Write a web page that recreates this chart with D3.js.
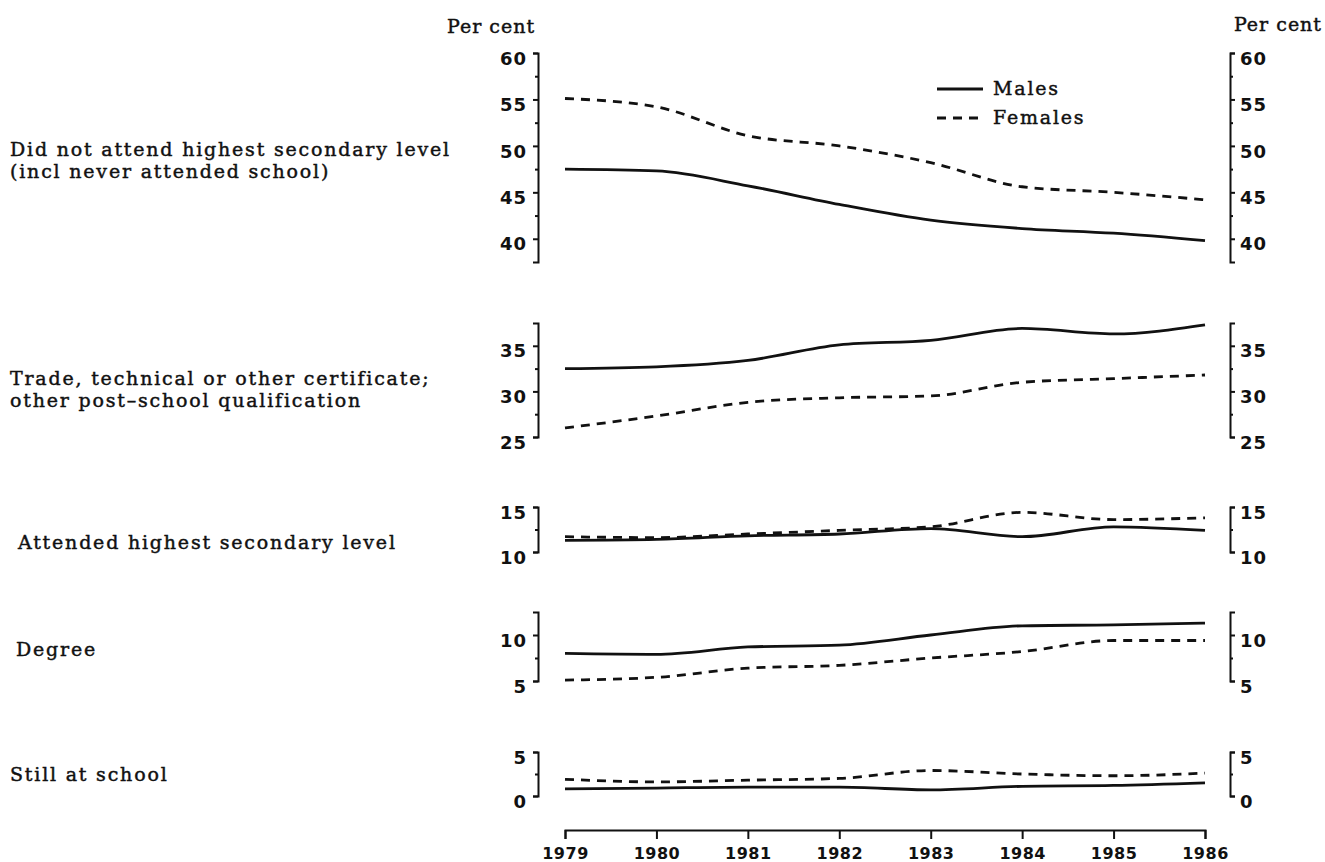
<!DOCTYPE html>
<html>
<head>
<meta charset="utf-8">
<script src="https://cdn.jsdelivr.net/npm/d3@7"></script>
<style>
  body { margin: 0; background: #fff; }
  svg { display: block; }
  .lbl { font-family: "DejaVu Serif", serif; font-size: 19px; letter-spacing: 1.8px; fill: #111; stroke: #111; stroke-width: 0.45px; }
  .unit { letter-spacing: 1px; }
  .tick text { font-family: "DejaVu Sans", sans-serif; font-weight: bold; font-size: 18px; letter-spacing: 1px; fill: #111; }
  .xaxis .tick text { font-size: 16px; letter-spacing: 0.5px; }
</style>
</head>
<body>
<svg width="1325" height="862"></svg>
<script>
// data (per cent)
var years = [1979, 1980, 1981, 1982, 1983, 1984, 1985, 1986];

var categories = [
    ["Did not attend highest secondary level", "(incl never attended school)"],
    ["Trade, technical or other certificate;", "other post\u2013school qualification"],
    ["Attended highest secondary level"],
    ["Degree"],
    ["Still at school"]
];

var males = [
    [47.5, 47.3, 45.7, 43.7, 42.0, 41.1, 40.6, 39.8],
    [32.5, 32.7, 33.4, 35.1, 35.6, 36.9, 36.3, 37.3],
    [11.3, 11.4, 11.8, 12.0, 12.6, 11.7, 12.8, 12.4],
    [8.0, 7.9, 8.7, 8.9, 10.0, 11.0, 11.1, 11.3],
    [0.8, 0.9, 1.0, 1.0, 0.7, 1.1, 1.2, 1.5]
];

var females = [
    [55.1, 54.2, 51.1, 50.0, 48.2, 45.6, 45.0, 44.2],
    [26.0, 27.3, 28.8, 29.3, 29.5, 31.0, 31.4, 31.8],
    [11.7, 11.6, 12.0, 12.4, 12.8, 14.4, 13.6, 13.8],
    [5.1, 5.4, 6.4, 6.7, 7.5, 8.2, 9.4, 9.4],
    [1.9, 1.6, 1.8, 2.0, 2.9, 2.5, 2.3, 2.6]
];

var domains = [[37.5, 60], [25, 37.5], [10, 15], [5, 12.5], [0, 5]];
var majorTicks = [[40, 45, 50, 55, 60], [25, 30, 35], [10, 15], [5, 10], [0, 5]];
var minorTicks = [[42.5, 47.5, 52.5, 57.5], [27.5, 32.5], [12.5], [7.5], [2.5]];

var legendNames = ["Males", "Females"];

// layout
var svg = d3.select("svg");
var leftAxisX = 538, rightAxisX = 1230;
var panelRanges = [[262, 53], [437, 323], [552, 507], [681, 612], [796, 752]];
var labelPos = [[10, 156, 178], [10, 385, 407], [18, 549], [16, 656], [10, 781]];

var x = d3.scaleLinear().domain([years[0], years[years.length - 1]]).range([565, 1205]);

var dashes = [null, "9,7"];

function styleAxis(g) {
    g.selectAll("path, line").attr("stroke", "#111").attr("stroke-width", 2);
}

domains.forEach(function (dom, i) {
    var y = d3.scaleLinear().domain(dom).range(panelRanges[i]);
    var g = svg.append("g");

    // left axis: bracket + minor ticks, then labelled major ticks
    g.append("g").attr("transform", "translate(" + leftAxisX + ",0)")
        .call(d3.axisLeft(y).tickValues(minorTicks[i]).tickSize(3).tickSizeOuter(5).tickFormat(""))
        .call(styleAxis);
    g.append("g").attr("transform", "translate(" + leftAxisX + ",0)")
        .call(d3.axisLeft(y).tickValues(majorTicks[i]).tickSize(5).tickPadding(6).tickFormat(d3.format("d")))
        .call(function (a) { a.select(".domain").remove(); })
        .call(styleAxis)
        .selectAll("text").attr("dy", "0.62em");

    // right axis
    g.append("g").attr("transform", "translate(" + rightAxisX + ",0)")
        .call(d3.axisRight(y).tickValues(minorTicks[i]).tickSize(3).tickSizeOuter(5).tickFormat(""))
        .call(styleAxis);
    g.append("g").attr("transform", "translate(" + rightAxisX + ",0)")
        .call(d3.axisRight(y).tickValues(majorTicks[i]).tickSize(5).tickPadding(5).tickFormat(d3.format("d")))
        .call(function (a) { a.select(".domain").remove(); })
        .call(styleAxis)
        .selectAll("text").attr("dy", "0.62em");

    var line = d3.line()
        .x(function (d, j) { return x(years[j]); })
        .y(function (d) { return y(d); })
        .curve(d3.curveMonotoneX);

    [males[i], females[i]].forEach(function (series, k) {
        g.append("path")
            .datum(series)
            .attr("d", line)
            .attr("fill", "none")
            .attr("stroke", "#111")
            .attr("stroke-width", 2.8)
            .attr("stroke-dasharray", dashes[k]);
    });

    // category label
    var lp = labelPos[i];
    categories[i].forEach(function (t, n) {
        svg.append("text").attr("class", "lbl")
            .attr("x", lp[0]).attr("y", lp[1 + n])
            .text(t);
    });
});

// x axis
var xAxisY = 830;
svg.append("g").attr("class", "xaxis")
    .attr("transform", "translate(0," + xAxisY + ")")
    .call(d3.axisBottom(x).tickValues(years).tickSize(9).tickSizeOuter(9).tickPadding(4).tickFormat(d3.format("d")))
    .call(styleAxis)
    .selectAll("text").attr("dy", "1em");

// unit labels
svg.append("text").attr("class", "lbl unit").attr("x", 491).attr("y", 33)
    .attr("text-anchor", "middle").text("Per cent");
svg.append("text").attr("class", "lbl unit").attr("x", 1322).attr("y", 31)
    .attr("text-anchor", "end").text("Per cent");

// legend
var legend = svg.append("g");
legendNames.forEach(function (name, k) {
    var ly = 89 + k * 29;
    legend.append("line")
        .attr("x1", 937).attr("x2", 983).attr("y1", ly).attr("y2", ly)
        .attr("stroke", "#111").attr("stroke-width", 2.8)
        .attr("stroke-dasharray", dashes[k]);
    legend.append("text").attr("class", "lbl")
        .attr("x", 993).attr("y", ly + 6).text(name);
});
</script>
</body>
</html>
